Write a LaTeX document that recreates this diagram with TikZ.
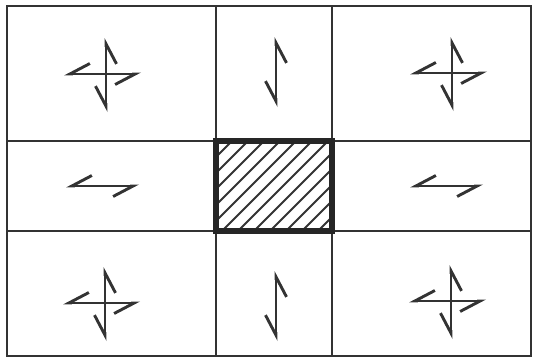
\documentclass[tikz,border=0pt]{standalone}
\usetikzlibrary{arrows.meta}

\begin{document}
\begin{tikzpicture}[x=0.5mm, y=-0.5mm,
    gridline/.style={line width=1.2mm, draw=black!80},
    centerbox/.style={line width=2.8mm, draw=black!85},
    hatchline/.style={line width=0.9mm, draw=black!80},
    harp/.style={line width=1.45mm, draw=black!80,
      {Straight Barb[right, length=10mm, width=10.5mm]}-{Straight Barb[right, length=10mm, width=10.5mm]}},
    pinwheel/.pic={
      \draw[harp] (-42,0) -- (35,0);
      \draw[harp] (0,-36) -- (0,38);
    },
    vharp/.pic={\draw[harp] (0,-35) -- (0,35);},
    hharp/.pic={\draw[harp] (-37,0) -- (36,0);}
]
\useasboundingbox (0,0) rectangle (533,361);
% grid
\draw[gridline] (7,6) rectangle (531,356);
\draw[gridline] (216,6) -- (216,356);
\draw[gridline] (332,6) -- (332,356);
\draw[gridline] (7,141) -- (531,141);
\draw[gridline] (7,231) -- (531,231);
% hatched centre cell
\begin{scope}
  \clip (216,141) rectangle (332,231);
  \foreach \k in {0,...,14}
    \draw[hatchline] ({126+\k*16},231) -- ++(90,-90);
\end{scope}
\draw[centerbox] (216,141) rectangle (332,231);
% arrows
\pic at (106,74)  {pinwheel};
\pic at (452,73)  {pinwheel};
\pic at (105,303) {pinwheel};
\pic at (451,301) {pinwheel};
\pic at (276,72)  {vharp};
\pic at (276,306) {vharp};
\pic at (103,186) {hharp};
\pic at (447,186) {hharp};
\end{tikzpicture}
\end{document}
